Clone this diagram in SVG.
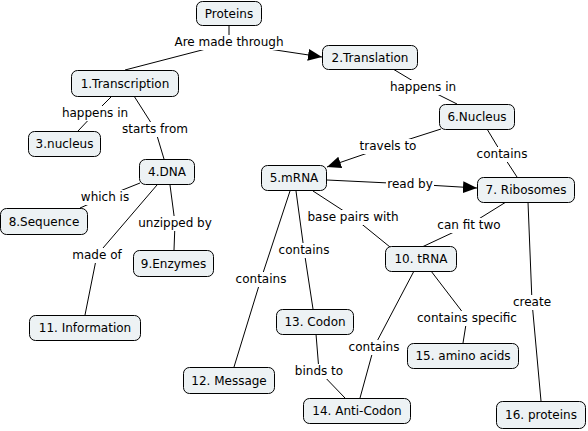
<svg xmlns="http://www.w3.org/2000/svg" width="588" height="431" viewBox="0 0 588 431">
<defs>
<style>
.n rect{fill:#edf2f4;stroke:#000;stroke-width:1}
.n text,.l text{font-family:"DejaVu Sans",Verdana,sans-serif;font-size:12px;fill:#000;text-anchor:middle;dominant-baseline:central}
.c line{stroke:#000;stroke-width:1}
.l rect{fill:#fff}
</style>
<marker id="ah" markerUnits="userSpaceOnUse" markerWidth="14" markerHeight="12" viewBox="0 0 14 12" refX="14" refY="6" orient="auto"><path d="M0,0 L14,6 L0,12 Z" fill="#000"/></marker>
</defs>
<rect width="588" height="431" fill="#fff"/>
<g id="connectors" class="c">
<line x1="229" y1="26" x2="229" y2="43"/>
<line x1="229" y1="43" x2="125" y2="70"/>
<line x1="229" y1="43" x2="322" y2="57" marker-end="url(#ah)"/>
<line x1="393" y1="69" x2="423" y2="87"/>
<line x1="423" y1="87" x2="457" y2="104"/>
<line x1="112" y1="96" x2="95" y2="113"/>
<line x1="95" y1="113" x2="78" y2="131"/>
<line x1="134" y1="96" x2="155" y2="129"/>
<line x1="155" y1="129" x2="164" y2="159"/>
<line x1="140" y1="183" x2="105" y2="197"/>
<line x1="105" y1="197" x2="80" y2="208"/>
<line x1="170" y1="185" x2="175" y2="223"/>
<line x1="175" y1="223" x2="174" y2="250"/>
<line x1="157" y1="185" x2="97" y2="255"/>
<line x1="97" y1="255" x2="85" y2="315"/>
<line x1="441" y1="129" x2="388" y2="146"/>
<line x1="388" y1="146" x2="327" y2="167" marker-end="url(#ah)"/>
<line x1="487" y1="129" x2="502" y2="154"/>
<line x1="502" y1="154" x2="517" y2="177"/>
<line x1="327" y1="180" x2="410" y2="184"/>
<line x1="410" y1="184" x2="477" y2="188" marker-end="url(#ah)"/>
<line x1="313" y1="191" x2="353" y2="217"/>
<line x1="353" y1="217" x2="390" y2="247"/>
<line x1="506" y1="202" x2="469" y2="225"/>
<line x1="469" y1="225" x2="422" y2="247"/>
<line x1="296" y1="191" x2="304" y2="250"/>
<line x1="304" y1="250" x2="313" y2="309"/>
<line x1="290" y1="191" x2="261" y2="279"/>
<line x1="261" y1="279" x2="234" y2="367"/>
<line x1="528" y1="202" x2="532" y2="302"/>
<line x1="532" y1="302" x2="541" y2="401"/>
<line x1="414" y1="271" x2="374" y2="347"/>
<line x1="374" y1="347" x2="360" y2="398"/>
<line x1="431" y1="271" x2="467" y2="318"/>
<line x1="467" y1="318" x2="463" y2="343"/>
<line x1="316" y1="334" x2="319" y2="371"/>
<line x1="319" y1="371" x2="345" y2="398"/>
</g>
<g id="labels" class="l">
<g id="lbl-made"><rect x="175" y="35" width="108" height="15"/><text x="229" y="42">Are made through</text></g>
<g id="lbl-happens1"><rect x="390" y="80" width="66" height="15"/><text x="423" y="87">happens in</text></g>
<g id="lbl-happens2"><rect x="62" y="106" width="66" height="15"/><text x="95" y="113">happens in</text></g>
<g id="lbl-starts"><rect x="120" y="122" width="70" height="15"/><text x="155" y="129">starts from</text></g>
<g id="lbl-which"><rect x="80" y="190" width="50" height="15"/><text x="105" y="197">which is</text></g>
<g id="lbl-unzip"><rect x="137" y="216" width="76" height="15"/><text x="175" y="223">unzipped by</text></g>
<g id="lbl-madeof"><rect x="73" y="248" width="48" height="15"/><text x="97" y="255">made of</text></g>
<g id="lbl-travels"><rect x="357" y="139" width="62" height="15"/><text x="388" y="146">travels to</text></g>
<g id="lbl-contains1"><rect x="475" y="147" width="54" height="15"/><text x="502" y="154">contains</text></g>
<g id="lbl-readby"><rect x="386" y="177" width="48" height="15"/><text x="410" y="184">read by</text></g>
<g id="lbl-base"><rect x="305" y="210" width="96" height="15"/><text x="353" y="217">base pairs with</text></g>
<g id="lbl-canfit"><rect x="435" y="218" width="68" height="15"/><text x="469" y="225">can fit two</text></g>
<g id="lbl-contains2"><rect x="277" y="243" width="54" height="15"/><text x="304" y="250">contains</text></g>
<g id="lbl-contains3"><rect x="234" y="272" width="54" height="15"/><text x="261" y="279">contains</text></g>
<g id="lbl-create"><rect x="512" y="295" width="40" height="15"/><text x="532" y="302">create</text></g>
<g id="lbl-contains4"><rect x="347" y="340" width="54" height="15"/><text x="374" y="347">contains</text></g>
<g id="lbl-specific"><rect x="416" y="311" width="102" height="15"/><text x="467" y="318">contains specific</text></g>
<g id="lbl-binds"><rect x="293" y="364" width="52" height="15"/><text x="319" y="371">binds to</text></g>
</g>
<g id="n-proteins" class="n"><rect x="196.5" y="1.5" width="65" height="24" rx="6"/><text x="229" y="13.5">Proteins</text></g>
<g id="n-translation" class="n"><rect x="322.5" y="45.5" width="95" height="24" rx="6"/><text x="370" y="57.5">2.Translation</text></g>
<g id="n-transcription" class="n"><rect x="71.5" y="70.5" width="107" height="26" rx="6"/><text x="125" y="83.5">1.Transcription</text></g>
<g id="n-nucleus3" class="n"><rect x="28.5" y="131.5" width="72" height="25" rx="6"/><text x="64.5" y="144">3.nucleus</text></g>
<g id="n-dna" class="n"><rect x="139.5" y="159.5" width="55" height="25" rx="6"/><text x="167" y="172">4.DNA</text></g>
<g id="n-nucleus6" class="n"><rect x="439.5" y="104.5" width="75" height="25" rx="6"/><text x="477" y="117">6.Nucleus</text></g>
<g id="n-mrna" class="n"><rect x="261.5" y="165.5" width="65" height="25" rx="6"/><text x="294" y="178">5.mRNA</text></g>
<g id="n-ribosomes" class="n"><rect x="477.5" y="177.5" width="97" height="25" rx="6"/><text x="526" y="190">7. Ribosomes</text></g>
<g id="n-sequence" class="n"><rect x="0.5" y="208.5" width="87" height="26" rx="6"/><text x="44" y="221.5">8.Sequence</text></g>
<g id="n-enzymes" class="n"><rect x="133.5" y="250.5" width="80" height="26" rx="6"/><text x="173.5" y="263.5">9.Enzymes</text></g>
<g id="n-trna" class="n"><rect x="385.5" y="246.5" width="71" height="25" rx="6"/><text x="421" y="259">10. tRNA</text></g>
<g id="n-information" class="n"><rect x="29.5" y="315.5" width="111" height="25" rx="6"/><text x="85" y="328">11. Information</text></g>
<g id="n-codon" class="n"><rect x="276.5" y="309.5" width="77" height="25" rx="6"/><text x="315" y="322">13. Codon</text></g>
<g id="n-message" class="n"><rect x="183.5" y="367.5" width="91" height="26" rx="6"/><text x="229" y="380.5">12. Message</text></g>
<g id="n-amino" class="n"><rect x="407.5" y="343.5" width="111" height="25" rx="6"/><text x="463" y="356">15. amino acids</text></g>
<g id="n-anticodon" class="n"><rect x="303.5" y="398.5" width="107" height="25" rx="6"/><text x="357" y="411">14. Anti-Codon</text></g>
<g id="n-proteins16" class="n"><rect x="496.5" y="401.5" width="89" height="27" rx="6"/><text x="541" y="415">16. proteins</text></g>
</svg>
